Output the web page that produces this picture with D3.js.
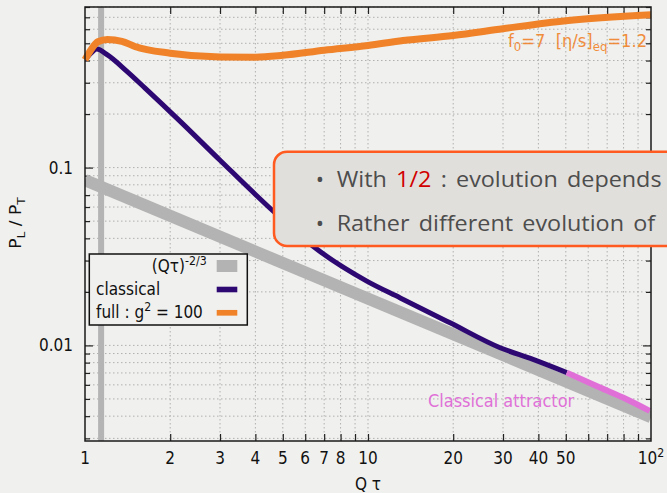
<!DOCTYPE html>
<html><head><meta charset="utf-8">
<script src="https://cdn.jsdelivr.net/npm/d3@7/dist/d3.min.js"></script>
<style>html,body{margin:0;padding:0;background:#f0f0ee;overflow:hidden}</style>
</head><body><svg id="c" width="667" height="493"></svg>
<script>
// ---------------- data ----------------
const xDomain = [1, 100];
const yDomain = [0.0029, 0.8];
const xTickValues = [2,3,4,5,6,7,8,9,10,20,30,40,50,60,70,80,90];
const xLabelValues = [1,2,3,4,5,6,7,8,10,20,30,40,50,100];
const xLabelTexts = ["1","2","3","4","5","6","7","8","10","20","30","40","50","10"];
const yMajorTicks = [0.01, 0.1];
const yMinorTicks = [0.003,0.004,0.005,0.006,0.007,0.008,0.009,
                     0.02,0.03,0.04,0.05,0.06,0.07,0.08,0.09,
                     0.2,0.3,0.4,0.5,0.6,0.7,0.8];
const yLabelTexts = ["0.01", "0.1"];
const verticalMarker = 1.14;
// (Q tau)^(-2/3) reference line (straight on log-log)
const powerLaw = [[1, 0.085], [100, 0.00395]];
// full : g^2 = 100
const fullCurve = [[1,0.404],[1.05,0.46],[1.11,0.51],[1.2,0.525],[1.35,0.513],[1.5,0.48],
  [2,0.44],[3,0.419],[4,0.418],[5,0.428],[7,0.457],[10,0.486],[13.3,0.518],[20,0.553],
  [30,0.604],[50,0.67],[100,0.724]];
// classical
const classicalCurve = [[1,0.404],[1.05,0.44],[1.1,0.464],[1.2,0.43],[1.4,0.35],[1.63,0.28],
  [2.17,0.182],[3,0.11],[4.63,0.0568],[6.5,0.0354],[9.9,0.023],[13,0.0185],[19.5,0.0134],
  [29.3,0.0097],[38.3,0.00834],[50.4,0.00703]];
// classical attractor
const attractorCurve = [[50.4,0.00703],[66,0.00579],[82,0.00498],[99,0.00428]];

// ---------------- layout ----------------
const L=85, R=651, T=7, B=441;
const SX = 0.9;
const BG = "#f0f0ee";
const svg = d3.select("#c");
svg.append("rect").attr("width",667).attr("height",493).attr("fill",BG);

const x = d3.scaleLog().domain(xDomain).range([L,R]);
const y = d3.scaleLog().domain(yDomain).range([B,T]);

// grid
const grid = svg.append("g").attr("stroke","#b0b0b0").attr("stroke-width",1).attr("stroke-dasharray","1.5,2.5");
grid.selectAll(".gx").data(xTickValues).join("line")
  .attr("x1",d=>x(d)).attr("x2",d=>x(d)).attr("y1",T).attr("y2",B);
grid.selectAll(".gy").data(yMinorTicks.concat(yMajorTicks)).join("line")
  .attr("y1",d=>y(d)).attr("y2",d=>y(d)).attr("x1",L).attr("x2",R);

// ticks via d3 axes (inward)
function styleAxis(g){ g.select(".domain").remove(); g.selectAll("line").attr("stroke","#222").attr("stroke-width",1.2); }
svg.append("g").attr("transform",`translate(0,${B})`).call(d3.axisBottom(x).tickValues(xTickValues).tickSize(-7).tickFormat("")).call(styleAxis);
svg.append("g").attr("transform",`translate(0,${T})`).call(d3.axisTop(x).tickValues(xTickValues).tickSize(-7).tickFormat("")).call(styleAxis);
svg.append("g").attr("transform",`translate(${L},0)`).call(d3.axisLeft(y).tickValues(yMajorTicks).tickSize(-8).tickFormat("")).call(styleAxis);
svg.append("g").attr("transform",`translate(${L},0)`).call(d3.axisLeft(y).tickValues(yMinorTicks).tickSize(-5).tickFormat("")).call(styleAxis);
svg.append("g").attr("transform",`translate(${R},0)`).call(d3.axisRight(y).tickValues(yMajorTicks).tickSize(-8).tickFormat("")).call(styleAxis);
svg.append("g").attr("transform",`translate(${R},0)`).call(d3.axisRight(y).tickValues(yMinorTicks).tickSize(-5).tickFormat("")).call(styleAxis);

// data
svg.append("clipPath").attr("id","clip").append("rect").attr("x",L).attr("y",T).attr("width",R-L).attr("height",B-T);
const plot = svg.append("g").attr("clip-path","url(#clip)");
const line = d3.line().x(d=>x(d[0])).y(d=>y(d[1])).curve(d3.curveMonotoneX);
plot.append("line").attr("x1",x(verticalMarker)).attr("x2",x(verticalMarker)).attr("y1",T).attr("y2",B)
  .attr("stroke","#b4b4b4").attr("stroke-width",6);
plot.append("path").datum(powerLaw).attr("d",line).attr("fill","none").attr("stroke","#b3b3b3").attr("stroke-width",12);
svg.append("path").datum(fullCurve).attr("d",line).attr("fill","none").attr("stroke","#f0832a").attr("stroke-width",7);
plot.append("path").datum(classicalCurve).attr("d",line).attr("fill","none").attr("stroke","#2e0872").attr("stroke-width",5);
plot.append("path").datum(attractorCurve).attr("d",line).attr("fill","none").attr("stroke","#e070d8").attr("stroke-width",6);

// frame
svg.append("rect").attr("x",L).attr("y",T).attr("width",R-L).attr("height",B-T)
  .attr("fill","none").attr("stroke","#1a1a1a").attr("stroke-width",1.5);

// text helpers
function txt(parent, px, py, o={}){
  return parent.append("text")
    .attr("transform",`translate(${px},${py}) scale(${o.sx||SX},1)`+(o.rotate?` rotate(${o.rotate})`:""))
    .attr("text-anchor",o.anchor||"start")
    .attr("font-family",o.family||"DejaVu Sans")
    .attr("font-size",o.size||17)
    .attr("fill",o.fill||"#111")
    .attr("opacity",o.opacity||1);
}
function rich(t, parts, size){
  let cur=0;
  parts.forEach(p=>{
    const target = p.sup ? -size*0.42 : p.sub ? size*0.28 : 0;
    const ts = t.append("tspan").attr("dy", target-cur).text(p.t);
    if(p.sup||p.sub) ts.attr("font-size", size*0.72);
    cur = target;
  });
}

// tick labels
xLabelValues.forEach((v,i)=>{
  const t = txt(svg, x(v), 464, {anchor:"middle"});
  if(v===100){ rich(t,[{t:"10"},{t:"2",sup:true}],17); }
  else t.text(xLabelTexts[i]);
});
yMajorTicks.forEach((v,i)=>{
  txt(svg, 73, y(v)+6, {anchor:"end"}).text(yLabelTexts[i]);
});
// axis titles
txt(svg, 368, 490, {anchor:"middle"}).text("Q τ");
rich(txt(svg, 21, 223, {anchor:"middle", rotate:-90}), [{t:"P"},{t:"L",sub:true},{t:" / P"},{t:"T",sub:true}], 17);

// legend
svg.append("rect").attr("x",89.3).attr("y",254).attr("width",158).attr("height",71)
  .attr("fill",BG).attr("stroke","#111").attr("stroke-width",1.5);
rich(txt(svg, 206.7, 271.7, {anchor:"end"}), [{t:"(Qτ)"},{t:"-2/3",sup:true}], 17);
svg.append("line").attr("x1",216.7).attr("x2",237.3).attr("y1",266).attr("y2",266).attr("stroke","#b3b3b3").attr("stroke-width",12);
txt(svg, 96, 295).text("classical");
svg.append("line").attr("x1",216.7).attr("x2",237.3).attr("y1",289.5).attr("y2",289.5).attr("stroke","#2e0872").attr("stroke-width",5.6);
rich(txt(svg, 96, 318.3), [{t:"full : g"},{t:"2",sup:true},{t:" = 100"}], 17);
svg.append("line").attr("x1",216.7).attr("x2",237.3).attr("y1",312.8).attr("y2",312.8).attr("stroke","#f0832a").attr("stroke-width",5.7);

// annotations
rich(txt(svg, 508, 46.7, {fill:"#f0832a", opacity:0.9, sx:0.96}),
  [{t:"f"},{t:"0",sub:true},{t:"=7\u00a0 [η/s]"},{t:"eq",sub:true},{t:"=1.2"}], 17);
txt(svg, 428, 407, {fill:"#e070d8", sx:0.95}).text("Classical attractor");

// callout box
svg.append("rect").attr("x",274).attr("y",151.7).attr("width",430).attr("height",94.3).attr("rx",13)
  .attr("fill","#e1dfdc").attr("stroke","#ff5a1f").attr("stroke-width",2.5);
const cf = {family:"Open Sans", size:22, fill:"#4d4d4d"};
const l1 = txt(svg, 336.7, 186.7, Object.assign({sx:1},cf)).attr("word-spacing",3);
l1.append("tspan").text("With ");
l1.append("tspan").attr("fill","#d10000").text("1/2");
l1.append("tspan").text(" :  evolution depends");
const len1 = l1.node().getComputedTextLength();
const f = 325/len1;
l1.attr("transform",`translate(336.7,186.7) scale(${f},1)`);
txt(svg, 336.7, 230.7, Object.assign({sx:f},cf)).attr("word-spacing",3).text("Rather different evolution of");
txt(svg, 320, 186.7, Object.assign({sx:1, anchor:"middle"},cf)).text("•");
txt(svg, 320, 230.7, Object.assign({sx:1, anchor:"middle"},cf)).text("•");
</script></body></html>
